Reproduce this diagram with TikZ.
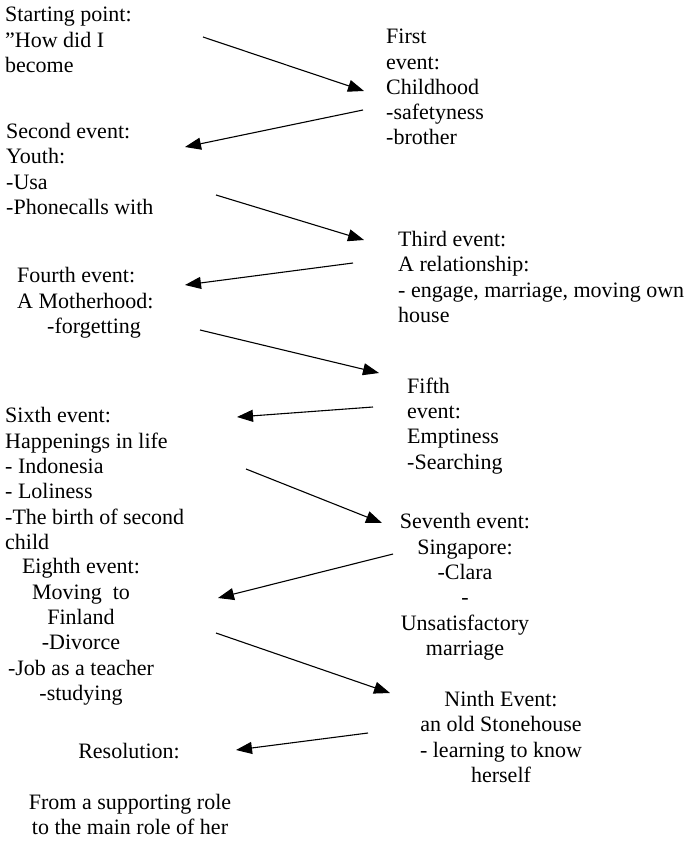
\documentclass[tikz,border=0pt]{standalone}
\usepackage{fontspec}
\setmainfont{Liberation Serif}
\usetikzlibrary{arrows.meta}
\tikzset{
  txt/.style={font=\fontsize{22}{25.3}\selectfont, inner sep=0pt, align=left, anchor=north west, execute at begin node=\strut},
  ctxt/.style={font=\fontsize{22}{25.3}\selectfont, inner sep=0pt, align=center, anchor=north, execute at begin node=\strut},
  arr/.style={line width=1.1pt, -{Triangle[length=16pt,width=12pt]}}
}
\begin{document}
\begin{tikzpicture}[x=1pt,y=-1pt]
\useasboundingbox[fill=white] (0,0) rectangle (688,842);
\node[txt] (start) at (5,7) {Starting point:\\”How did I\\become};
\node[txt] (first) at (386,29) {First\\event:\\Childhood\\-safetyness\\-brother};
\node[txt] (second) at (6,123) {Second event:\\Youth:\\-Usa\\-Phonecalls with};
\node[txt] (third) at (398,231) {Third event:\\A relationship:\\- engage, marriage, moving own\\house};
\node[txt] (fourth) at (17,267.5) {Fourth event:\\A Motherhood:\\\hspace*{30pt}-forgetting};
\node[txt] (fifth) at (407,377.5) {Fifth\\event:\\Emptiness\\-Searching};
\node[txt] (sixth) at (5,407.5) {Sixth event:\\Happenings in life\\- Indonesia\\- Loliness\\-The birth of second\\child};
\node[ctxt] (seventh) at (465,513.5) {Seventh event:\\Singapore:\\-Clara\\-\\Unsatisfactory\\marriage};
\node[ctxt] (eighth) at (81,558.5) {Eighth event:\\Moving~ to\\Finland\\-Divorce\\-Job as a teacher\\-studying};
\node[ctxt] (ninth) at (501,691) {Ninth Event:\\an old Stonehouse\\- learning to know\\herself};
\node[ctxt] (resol) at (129,741) {Resolution:};
\node[ctxt] (resoltext) at (130,794) {From a supporting role\\to the main role of her};

\coordinate (a1s) at (203,37);  \coordinate (a1e) at (364,91);
\coordinate (a2s) at (363,110); \coordinate (a2e) at (185,147);
\coordinate (a3s) at (216,195); \coordinate (a3e) at (364,240);
\coordinate (a4s) at (353,263); \coordinate (a4e) at (185,285);
\coordinate (a5s) at (200,330); \coordinate (a5e) at (379,373);
\coordinate (a6s) at (373,407); \coordinate (a6e) at (237,417);
\coordinate (a7s) at (246,469); \coordinate (a7e) at (382,523);
\coordinate (a8s) at (393,554); \coordinate (a8e) at (218,598);
\coordinate (a9s) at (216,633); \coordinate (a9e) at (390,693);
\coordinate (a10s) at (368,733); \coordinate (a10e) at (236,750);
\foreach \i in {1,...,10} {\draw[arr] (a\i s) -- (a\i e);}
\end{tikzpicture}
\end{document}
